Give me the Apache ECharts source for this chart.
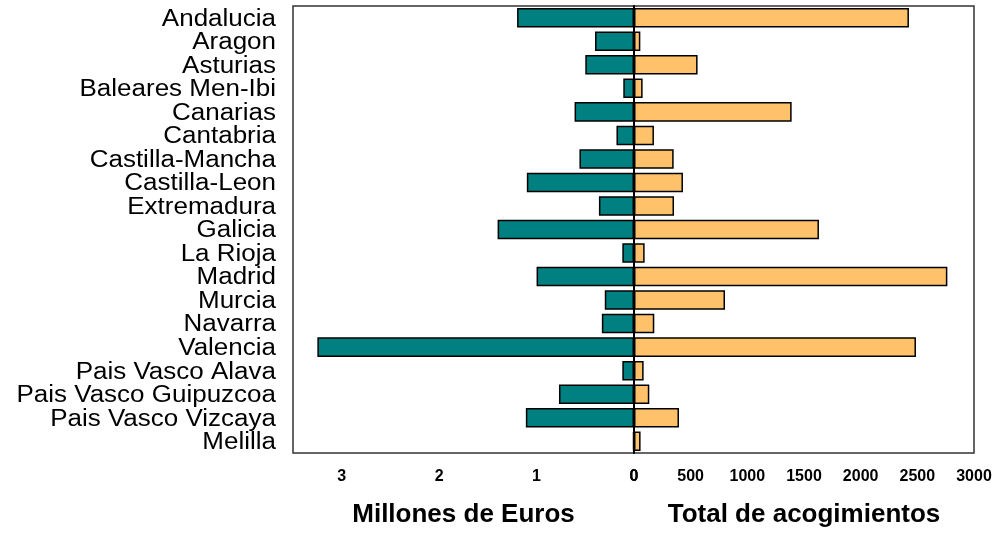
<!DOCTYPE html>
<html>
<head>
<meta charset="utf-8">
<script src="https://cdn.jsdelivr.net/npm/echarts@6/dist/echarts.min.js"></script>
<style>html,body{margin:0;padding:0;background:#fff}#c{width:996px;height:533px}</style>
</head>
<body>
<div id="c"></div>
<script>
const categories = ["Andalucia","Aragon","Asturias","Baleares Men-Ibi","Canarias","Cantabria","Castilla-Mancha","Castilla-Leon","Extremadura","Galicia","La Rioja","Madrid","Murcia","Navarra","Valencia","Pais Vasco Alava","Pais Vasco Guipuzcoa","Pais Vasco Vizcaya","Melilla"];
const millonesEuros = [1.20,0.40,0.50,0.11,0.61,0.18,0.56,1.10,0.36,1.40,0.12,1.00,0.30,0.33,3.25,0.12,0.77,1.11,0.01];
const acogimientos = [2426,56,561,76,1391,176,350,432,353,1632,94,2765,803,179,2488,85,135,397,58];
const leftTicks = [0,1,2,3];
const rightTicks = [0,500,1000,1500,2000,2500,3000];

const chart = echarts.init(document.getElementById('c'));
const font = 'Liberation Sans, Arial, sans-serif';
chart.setOption({
  animation: false,
  grid: [
    {left: 293, width: 341, top: 6, height: 450, show: true, borderColor: '#333', borderWidth: 1.5, backgroundColor: '#fff'},
    {left: 634, width: 340, top: 6, height: 450, show: true, borderColor: '#333', borderWidth: 1.5, backgroundColor: '#fff'}
  ],
  xAxis: [
    {gridIndex: 0, type: 'value', min: 0, max: 3.5, interval: 1, inverse: true,
     splitLine: {show: false}, axisLine: {show: false}, axisTick: {show: false},
     axisLabel: {margin: 16, fontFamily: font, fontWeight: 'bold', fontSize: 16, color: '#000',
       formatter: v => leftTicks.includes(v) ? String(v) : ''},
     name: 'Millones de Euros', nameLocation: 'middle', nameGap: 49,
     nameTextStyle: {fontFamily: font, fontWeight: 'bold', fontSize: 26, color: '#000'}},
    {gridIndex: 1, type: 'value', min: 0, max: 3000, interval: 500,
     splitLine: {show: false}, axisLine: {show: false}, axisTick: {show: false},
     axisLabel: {margin: 16, fontFamily: font, fontWeight: 'bold', fontSize: 16, color: '#000',
       formatter: v => rightTicks.includes(v) ? String(v) : ''},
     name: 'Total de acogimientos', nameLocation: 'middle', nameGap: 49,
     nameTextStyle: {fontFamily: font, fontWeight: 'bold', fontSize: 26, color: '#000'}}
  ],
  yAxis: [
    {gridIndex: 0, type: 'category', data: categories, inverse: true, position: 'left',
     axisLine: {show: false}, axisTick: {show: false}, axisLabel: {show: false}},
    {gridIndex: 1, type: 'category', data: categories, inverse: true, position: 'left', z: 10,
     axisLine: {show: true, lineStyle: {color: '#000', width: 2}}, axisTick: {show: false},
     axisLabel: {show: false}}
  ],
  series: [
    {type: 'bar', xAxisIndex: 0, yAxisIndex: 0, data: millonesEuros, barCategoryGap: '17%',
     itemStyle: {color: '#008080', borderColor: '#000', borderWidth: 1.5}},
    {type: 'bar', xAxisIndex: 1, yAxisIndex: 1, data: acogimientos, barCategoryGap: '17%',
     itemStyle: {color: '#FFC26B', borderColor: '#000', borderWidth: 1.5}}
  ]
});

// Category labels: real text placed via the category axis scale, stretched horizontally like the reference
const gridLeft = chart.convertToPixel({xAxisIndex: 0}, 3.5);
chart.setOption({
  graphic: categories.map((name) => ({
    type: 'text',
    x: gridLeft - 17,
    y: chart.convertToPixel({yAxisIndex: 0}, name) + 1.5,
    scaleX: 1.13,
    style: {text: name, fontFamily: font, fontSize: 23, fill: '#000', align: 'right', verticalAlign: 'middle'}
  }))
});
</script>
</body>
</html>
